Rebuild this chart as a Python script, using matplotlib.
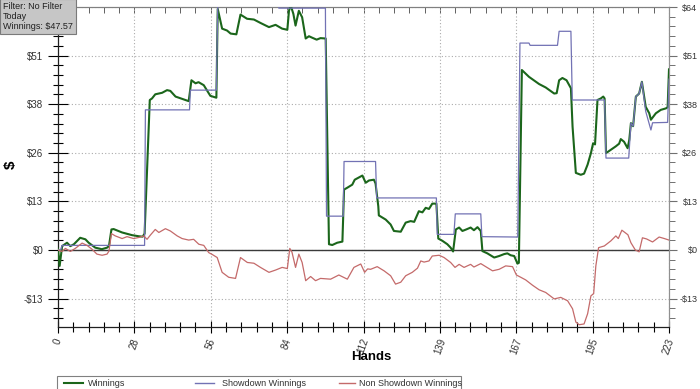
import matplotlib
matplotlib.use('Agg')
import matplotlib.pyplot as plt
from matplotlib.ticker import AutoMinorLocator
from matplotlib.patches import Rectangle
from matplotlib.lines import Line2D

plt.rcParams['font.family'] = ['Liberation Sans', 'DejaVu Sans']

# ---------------- data ----------------
x_tick_values = [0, 27.875, 55.75, 83.625, 111.5, 139.375, 167.25, 195.125, 223]
x_tick_labels = ["0", "28", "56", "84", "112", "139", "167", "195", "223"]
y_tick_values = [-12.8, 0, 12.8, 25.6, 38.4, 51.2, 64]
y_tick_labels = ["-$13", "$0", "$13", "$26", "$38", "$51", "$64"]

win_x = [0, 0.6, 1.5, 3.3, 4.5, 5.8, 8.1, 10.0, 11.2, 13.6, 16.0, 17.9, 18.6, 19.5, 20.3,
         23.4, 27.0, 29.5, 30.9, 31.6, 33.5, 34.3, 35.5, 38.0, 39.8, 41.0, 42.9, 45.3,
         47.7, 48.7, 50.2, 51.3, 53.2, 55.6, 57.8, 58.3, 59.9, 61.7, 63.0, 65.1, 66.6,
         69.0, 71.5, 73.9, 77.0, 79.4, 81.8, 83.7, 84.3, 84.9, 85.9, 86.7, 87.9, 89.1,
         90.4, 91.6, 92.8, 94.4, 95.8, 97.7, 98.9, 100.1, 101.9, 103.8, 104.4, 105.6,
         107.4, 108.3, 111.1, 112.3, 113.5, 115.3, 115.9, 116.9, 117.1, 119.6, 121.4,
         122.6, 125.1, 126.9, 128.7, 130.0, 131.7, 133.0, 134.2, 135.4, 136.6, 138.1,
         138.8, 140.3, 142.1, 143.3, 144.2, 145.2, 146.4, 147.6, 149.0, 150.6, 151.8,
         153.1, 154.3, 154.9, 156.7, 159.2, 161.0, 162.8, 164.0, 165.2, 166.5, 167.7,
         168.2, 169.3, 171.9, 175.6, 178.0, 181.1, 182.0, 182.9, 184.1, 185.6, 187.2,
         187.8, 189.0, 190.8, 192.0, 193.3, 194.5, 195.3, 196.0, 196.9, 198.1, 199.0,
         199.5, 200.0, 201.8, 203.6, 204.8, 205.4, 206.6, 207.9, 208.5, 209.1, 209.9,
         210.9, 212.1, 213.1, 214.5, 215.8, 216.4, 218.2, 220.0, 221.9, 222.5, 223.0]
win_y = [0.3, -4.2, 1.0, 1.9, 1.0, 1.5, 3.2, 2.8, 1.9, 0.6, 0.2, 0.6, 1.0, 5.4, 5.5,
         4.6, 3.9, 3.6, 3.5, 4.3, 39.5, 39.9, 41.0, 41.4, 42.1, 41.9, 40.4, 39.8,
         39.2, 44.7, 43.9, 44.2, 43.4, 40.6, 40.1, 63.5, 58.3, 57.8, 57.0, 56.8, 62.0,
         60.9, 60.7, 59.8, 58.7, 59.3, 58.3, 58.0, 63.0, 64.5, 62.2, 59.1, 63.0, 61.3,
         55.7, 56.3, 55.9, 55.4, 55.8, 55.7, 1.5, 1.3, 1.9, 2.2, 15.9, 16.4,
         17.2, 18.5, 19.6, 17.7, 18.3, 18.5, 17.5, 11.5, 9.1, 8.0, 6.7,
         5.0, 4.8, 7.2, 7.6, 7.4, 10.2, 9.9, 11.1, 10.8, 12.2, 12.2,
         3.0, 2.4, 1.5, 0.6, -0.4, 5.4, 5.9, 5.0, 5.4, 5.9, 5.2,
         6.0, 5.0, -0.3, -0.9, -2.0, -1.6, -1.1, -0.9, -1.4, -1.6, -3.6,
         -3.4, 47.4, 45.6, 43.7, 42.8, 41.2, 41.3, 44.7, 45.3, 44.7, 42.6,
         32.5, 20.3, 19.8, 20.1, 22.5, 25.5, 28.1, 27.8, 39.5, 39.9, 40.4,
         39.9, 25.5, 26.4, 27.3, 28.0, 29.2, 28.5, 26.8, 29.0, 33.4, 32.6,
         40.4, 41.2, 44.3, 37.7, 36.0, 34.3, 36.0, 36.9, 37.3, 37.6, 47.57]

sd_x = [0, 1.0, 1.5, 31.6, 31.9, 48.0, 48.3, 57.8, 58.3, 80.5, 80.6, 97.6, 98.0, 104.1,
        104.4, 115.9, 116.3, 138.1, 138.4, 144.5, 145.0, 154.3, 154.7, 167.8, 168.6,
        171.9, 172.3, 182.3, 182.9, 187.2, 187.7, 199.5, 200.0, 208.3, 209.1, 209.9,
        210.9, 212.1, 213.1, 214.5, 216.4, 217.0, 222.5, 223.0]
sd_y = [0, 0, 1.2, 1.2, 36.9, 36.9, 42.1, 42.1, 64.5, 64.5, 63.7, 63.7, 8.9, 8.9,
        23.3, 23.3, 13.7, 13.7, 4.1, 4.1, 9.5, 9.5, 3.5, 3.4, 54.5,
        54.5, 53.9, 53.9, 57.6, 57.6, 39.5, 39.5, 24.2, 24.2, 33.4, 32.6,
        40.4, 41.2, 44.3, 36.5, 31.6, 33.5, 33.6, 45.0]

nsd_x = [0, 1.5, 2.7, 4.5, 6.3, 8.8, 10.6, 12.4, 14.2, 16.1, 17.9, 18.6, 19.5, 20.9,
         23.4, 25.2, 27.6, 29.6, 31.3, 32.5, 33.7, 35.5, 36.8, 39.2, 41.0, 43.5, 45.3,
         47.7, 49.5, 51.4, 53.2, 55.0, 56.3, 58.1, 59.9, 62.3, 64.8, 66.6, 69.1, 71.5,
         73.9, 77.0, 79.4, 81.8, 83.7, 84.6, 85.4, 86.7, 87.9, 89.1, 90.4, 92.2, 94.0,
         95.8, 99.5, 102.5, 105.6, 108.0, 110.5, 111.9, 113.0, 114.1, 116.5, 119.0,
         121.4, 123.2, 125.1, 126.9, 129.3, 131.2, 132.4, 133.6, 135.4, 136.6, 139.1,
         140.9, 143.3, 144.9, 146.4, 148.2, 150.6, 151.8, 154.3, 156.1, 158.6, 161.0,
         163.4, 165.9, 167.3, 168.9, 170.7, 173.2, 175.6, 178.0, 181.1, 183.5, 186.0,
         187.8, 189.0, 190.2, 192.0, 193.3, 194.5, 195.5, 196.3, 197.3, 199.4, 201.8,
         203.6, 204.5, 205.8, 208.0, 209.1, 210.7, 212.1, 213.3, 214.8, 217.0, 219.4,
         221.3, 223.0]
nsd_y = [0, -0.4, 0.4, -0.4, 0.4, 1.8, 1.2, 0.2, -1.1, -1.4, -1.1, -0.3, 4.3, 3.7,
         3.0, 3.5, 3.0, 3.3, 3.7, 2.8, 3.9, 5.4, 4.6, 5.6, 5.0, 3.7, 3.0,
         2.6, 2.8, 1.5, 1.2, -0.7, -1.2, -2.0, -5.9, -7.2, -7.5, -2.0, -3.3, -3.5,
         -4.6, -5.9, -5.3, -4.6, -4.9, 0.4, -0.6, -4.6, -1.1, -3.3, -8.1, -7.0, -8.1,
         -7.5, -7.7, -6.6, -7.7, -4.6, -3.7, -5.9, -5.0, -5.1, -4.4, -5.5,
         -6.8, -9.0, -8.5, -6.8, -5.9, -4.8, -2.9, -3.2, -2.9, -1.6, -1.4,
         -2.0, -3.3, -4.6, -3.8, -4.6, -3.8, -4.5, -3.6, -4.4, -5.5, -5.1,
         -4.2, -4.4, -6.6, -7.2, -7.9, -9.3, -10.5, -11.2, -12.9, -12.5, -13.4,
         -15.5, -19.0, -19.7, -19.5, -16.8, -12.1, -11.5, -4.2, 0.6, 1.05, 2.4,
         3.7, 3.0, 5.2, 4.0, 1.9, 0.0, -0.5, 3.2, 2.9, 2.1, 3.4,
         3.0, 2.6]

series_names = ["Winnings", "Showdown Winnings", "Non Showdown Winnings"]
series_colors = ["#1b661b", "#7272b4", "#c46a6a"]

# ---------------- figure ----------------
W, H = 700, 389
fig = plt.figure(figsize=(W / 100, H / 100), dpi=100)
ax = fig.add_axes([58 / W, 62 / H, 611 / W, 320 / H])

ax.set_xlim(0, 223)
ax.set_ylim(-20.3, 64)

ax.grid(True, which='major', color='#ababab', linestyle=(0, (1, 2)), linewidth=0.8)
ax.axhline(0, color='#3a3a3a', lw=1.0, zorder=2)

ax.plot(win_x, win_y, color=series_colors[0], lw=1.5, zorder=3)
ax.plot(sd_x, sd_y, color=series_colors[1], lw=0.9, zorder=4)
ax.plot(nsd_x, nsd_y, color=series_colors[2], lw=0.9, zorder=4)

# x axis
ax.set_xticks(x_tick_values)
ax.set_xticklabels(x_tick_labels, rotation=70, ha='center', va='top')
ax.xaxis.set_minor_locator(AutoMinorLocator(5))
ax.tick_params(axis='x', which='major', direction='inout', length=8, width=0.8,
               labelsize=7, labelcolor='#333333', pad=3)
ax.tick_params(axis='x', which='minor', direction='inout', length=7, width=0.8)

# left y axis (top label hidden under the info box, as in the reference)
ax.set_yticks(y_tick_values)
ax.set_yticklabels(y_tick_labels[:-1] + [""])
ax.yaxis.set_minor_locator(AutoMinorLocator(5))
ax.tick_params(axis='y', which='major', direction='inout', length=15, width=0.8,
               labelsize=7, labelcolor='#333333', pad=3)
ax.tick_params(axis='y', which='minor', direction='inout', length=7, width=0.8)

for s in ('left', 'bottom'):
    ax.spines[s].set_color('#202020')
    ax.spines[s].set_linewidth(0.9)
ax.spines['top'].set_color('#808080')
ax.spines['right'].set_color('#909090')

# top ticks
top = ax.secondary_xaxis('top')
top.set_xticks(x_tick_values)
top.set_xticklabels([])
top.xaxis.set_minor_locator(AutoMinorLocator(5))
top.tick_params(which='both', direction='in', length=4, width=0.7, color='#606060')
top.spines['top'].set_color('#808080')

# right y axis
right = ax.secondary_yaxis('right')
right.set_yticks(y_tick_values)
right.set_yticklabels(y_tick_labels)
right.yaxis.set_minor_locator(AutoMinorLocator(5))
right.tick_params(which='major', direction='out', length=6, width=0.8,
                  labelsize=6.5, labelcolor='#333333', pad=14.5, color='#707070')
right.tick_params(which='minor', direction='out', length=4, width=0.7, color='#707070')
for lbl in right.get_yticklabels():
    lbl.set_horizontalalignment('right')
right.spines['right'].set_color('#909090')

# axis labels
ax.set_xlabel("Hands", fontsize=9.5, fontweight='bold')
ax.xaxis.set_label_coords((371 - 58) / 611, -(357 - 327) / 320)
ax.xaxis.label.set_va('center')
ax.set_ylabel("$", fontsize=11, fontweight='bold', rotation=90)
ax.yaxis.set_label_coords((11 - 58) / 611, (327 - 165) / 320)
ax.yaxis.label.set_va('center')

# info box
fig.text(3 / W, 1 - 2 / H, "Filter: No Filter\nToday\nWinnings: $47.57",
         fontsize=6.5, ha='left', va='top', linespacing=1.15, color='#202020',
         bbox=dict(boxstyle='square,pad=0.3', fc='#c6c6c6', ec='#7a7a7a', lw=0.8),
         zorder=10)

# legend (manual layout)
fig.add_artist(Rectangle((57 / W, -5 / H), (461 - 57) / W, (389 + 5 - 376) / H,
                         transform=fig.transFigure, fc='white', ec='#808080', lw=0.8))
ly = 1 - 383 / H
handles = [(64, 83, 88), (195, 214, 222), (339, 355, 359)]
for (x0, x1, xt), name, col in zip(handles, series_names, series_colors):
    fig.add_artist(Line2D([x0 / W, x1 / W], [ly, ly], transform=fig.transFigure,
                          color=col, lw=1.5 if name == "Winnings" else 1.0))
    fig.text(xt / W, ly, name, fontsize=6.5, ha='left', va='center', color='#303030')

fig.savefig("out.png", dpi=100)
